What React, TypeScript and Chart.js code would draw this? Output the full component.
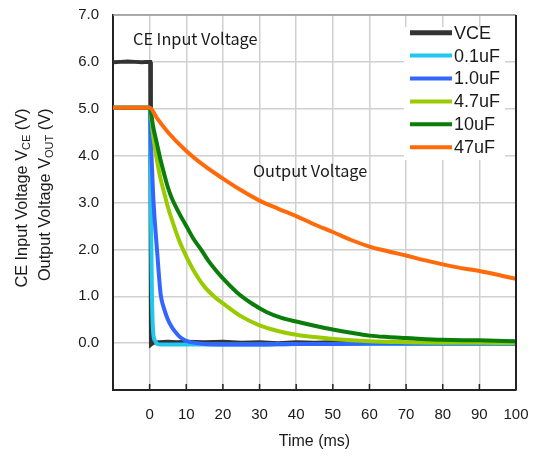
import React, { useEffect, useRef } from 'react';
import { Chart, registerables } from 'chart.js';
Chart.register(...registerables);

const W = 539;
const H = 456;

// ---- data (time in ms, voltage in V) ----
const vceT = [-10, -8, -6, -4, -2, -1, 0, 0.15, 0.35, 1, 2.5, 5, 7.5, 10, 15, 20, 25, 30, 35, 40, 45, 50, 55, 60, 65, 70, 75, 80, 85, 90, 95, 100];
const vceV = [5.99, 6.0, 6.01, 6.0, 5.99, 6.0, 6.0, 6.0, -0.03, 0.01, 0.02, 0.03, 0.02, 0.03, 0.02, 0.03, 0.01, 0.02, 0.0, 0.02, 0.01, 0.02, 0.01, 0.0, 0.02, 0.01, 0.02, 0.01, 0.02, 0.01, 0.0, 0.01];

const c01T = [-10, 0, 0.2, 0.4, 0.6, 0.8, 1, 1.5, 2, 3, 5, 10, 20, 30, 40, 50, 60, 70, 80, 90, 100];
const c01V = [5.02, 5.02, 4.2, 2.5, 1.2, 0.5, 0.2, 0.05, -0.01, -0.03, -0.03, -0.03, -0.03, -0.03, -0.02, -0.02, -0.02, -0.02, -0.02, -0.02, -0.02];

const c10T = [-10, 0, 0.5, 1, 1.5, 2, 3, 4, 5, 6, 7, 8, 9, 10, 12, 15, 20, 30, 40, 50, 60, 70, 80, 90, 100];
const c10V = [5.02, 5.02, 4.0, 3.1, 2.5, 2.0, 1.05, 0.72, 0.5, 0.35, 0.24, 0.15, 0.09, 0.05, 0.01, -0.02, -0.03, -0.03, -0.02, -0.02, -0.01, -0.01, -0.01, -0.01, -0.01];

const c47T = [-10, 0, 1, 2, 3, 4, 5, 6, 8, 10, 12, 15, 18, 20, 25, 30, 35, 40, 45, 50, 60, 70, 80, 90, 100];
const c47V = [5.02, 5.02, 4.4, 3.9, 3.5, 3.2, 2.9, 2.65, 2.2, 1.85, 1.55, 1.2, 0.97, 0.85, 0.57, 0.38, 0.26, 0.18, 0.13, 0.09, 0.04, 0.02, 0.01, 0.01, 0.0];

const c100T = [-10, 0, 1, 2, 3, 4, 5, 6, 8, 10, 12, 14, 16, 18, 20, 24, 28, 32, 36, 40, 45, 50, 55, 60, 65, 70, 80, 90, 100];
const c100V = [5.02, 5.02, 4.6, 4.25, 3.9, 3.6, 3.32, 3.1, 2.78, 2.5, 2.22, 2.0, 1.76, 1.56, 1.38, 1.07, 0.84, 0.66, 0.54, 0.46, 0.37, 0.29, 0.22, 0.16, 0.13, 0.11, 0.07, 0.06, 0.04];

const c470T = [-10, 0, 2, 5, 10, 15, 20, 25, 30, 35, 40, 45, 50, 55, 60, 65, 70, 75, 80, 85, 90, 95, 100];
const c470V = [5.02, 5.02, 4.8, 4.5, 4.1, 3.78, 3.51, 3.26, 3.04, 2.87, 2.71, 2.53, 2.37, 2.2, 2.06, 1.96, 1.87, 1.77, 1.68, 1.6, 1.54, 1.46, 1.37];

const seriesLabels = ['VCE', '0.1uF', '1.0uF', '4.7uF', '10uF', '47uF'];
const seriesColors = ['#333333', '#1ec8f0', '#3366ff', '#99cc00', '#0a7d0a', '#ff6a0a'];
const seriesT = [vceT, c01T, c10T, c47T, c100T, c470T];
const seriesV = [vceV, c01V, c10V, c47V, c100V, c470V];

const xTicks = [0, 10, 20, 30, 40, 50, 60, 70, 80, 90, 100];

const SANS = '"Liberation Sans", Arial, sans-serif';
const JP = '"Noto Sans CJK JP", "Noto Sans", sans-serif';

const decorPlugin = {
  id: 'decor',
  afterDraw(chart: any) {
    const ctx = chart.ctx as CanvasRenderingContext2D;
    const a = chart.chartArea;
    const xs = chart.scales.x;
    ctx.save();
    // top and right borders
    ctx.strokeStyle = '#999';
    ctx.lineWidth = 1.5;
    ctx.beginPath();
    ctx.moveTo(a.left, a.top);
    ctx.lineTo(a.right, a.top);
    ctx.stroke();
    ctx.strokeStyle = '#222';
    ctx.lineWidth = 2;
    ctx.beginPath();
    ctx.moveTo(a.right, a.top);
    ctx.lineTo(a.right, a.bottom);
    ctx.stroke();
    // inner x tick marks
    ctx.lineWidth = 1.5;
    xTicks.forEach((t) => {
      const px = xs.getPixelForValue(t);
      ctx.beginPath();
      ctx.moveTo(px, a.bottom);
      ctx.lineTo(px, a.bottom - 6);
      ctx.stroke();
    });

    // annotations
    ctx.fillStyle = '#1a1a1a';
    ctx.font = '16.3px ' + JP;
    ctx.textBaseline = 'middle';
    ctx.textAlign = 'left';
    ctx.fillText('CE Input Voltage', 133, 38.5);
    ctx.fillText('Output Voltage', 253, 170.5);

    // legend
    const lx = 404, ly = 27, lw = 101, lh = 133;
    ctx.fillStyle = '#ffffff';
    ctx.fillRect(lx, ly, lw, lh);
    ctx.font = '18px ' + SANS;
    seriesLabels.forEach((lab, i) => {
      const y = 32.7 + i * 22.9;
      ctx.strokeStyle = seriesColors[i];
      ctx.lineWidth = i === 0 ? 5 : 4;
      ctx.beginPath();
      ctx.moveTo(410, y);
      ctx.lineTo(452, y);
      ctx.stroke();
      ctx.fillStyle = '#1a1a1a';
      ctx.fillText(lab, 454, y + 1);
    });

    // x title
    ctx.font = '16px ' + SANS;
    ctx.textAlign = 'center';
    ctx.fillText('Time (ms)', (a.left + a.right) / 2, 442);

    // y title (two lines with subscripts)
    const drawRot = (cx: number, yEnd: number, parts: [string, boolean][]) => {
      const mainF = '16.3px ' + SANS;
      const subF = '11px ' + SANS;
      let total = 0;
      parts.forEach(([s, sub]) => {
        ctx.font = sub ? subF : mainF;
        total += ctx.measureText(s).width;
      });
      ctx.save();
      ctx.translate(cx, yEnd);
      ctx.rotate(-Math.PI / 2);
      ctx.textAlign = 'left';
      ctx.textBaseline = 'middle';
      let x = -total;
      parts.forEach(([s, sub]) => {
        ctx.font = sub ? subF : mainF;
        ctx.fillText(s, x, sub ? 4 : 0);
        x += ctx.measureText(s).width;
      });
      ctx.restore();
    };
    drawRot(22.5, 108.5, [['CE Input Voltage V', false], ['CE', true], [' (V)', false]]);
    drawRot(45.5, 108.5, [['Output Voltage V', false], ['OUT', true], [' (V)', false]]);
    ctx.restore();
  },
};

export default function App() {
  const ref = useRef<HTMLCanvasElement>(null);
  useEffect(() => {
    const canvas = ref.current!;
    const datasets = seriesLabels.map((lab, i) => ({
      label: lab,
      data: seriesT[i].map((t, j) => ({ x: t, y: seriesV[i][j] })),
      borderColor: seriesColors[i],
      backgroundColor: seriesColors[i],
      borderWidth: 4,
      pointRadius: 0,
      tension: 0,
      cubicInterpolationMode: i === 0 ? 'default' : 'monotone',
      order: 6 - i,
      fill: false,
    }));
    const chart = new Chart(canvas, {
      type: 'line',
      data: { datasets } as any,
      options: {
        responsive: false,
        animation: false,
        maintainAspectRatio: false,
        layout: { padding: { top: 15, right: 23, left: 0, bottom: 0 } },
        plugins: { legend: { display: false }, tooltip: { enabled: false } },
        scales: {
          x: {
            type: 'linear',
            min: -10,
            max: 100,
            ticks: {
              stepSize: 10,
              autoSkip: false,
              maxRotation: 0,
              padding: 16,
              color: '#1a1a1a',
              font: { family: SANS, size: 15 },
              callback: (v: any) => (v === -10 ? '' : String(v)),
            },
            grid: { color: '#d0d0d0', lineWidth: 1.5, drawTicks: false },
            border: { display: true, color: '#222', width: 2 },
            afterFit: (s: any) => {
              s.height = 66;
              s.paddingLeft = 0;
              s.paddingRight = 0;
            },
          },
          y: {
            type: 'linear',
            min: -1,
            max: 7,
            ticks: {
              stepSize: 1,
              padding: 14,
              color: '#1a1a1a',
              font: { family: SANS, size: 15 },
              callback: (v: any) => (v === -1 ? '' : Number(v).toFixed(1)),
            },
            grid: { color: '#d0d0d0', lineWidth: 1.5, drawTicks: false },
            border: { display: true, color: '#222', width: 2 },
            afterFit: (s: any) => {
              s.width = 113;
              s.paddingTop = 0;
              s.paddingBottom = 0;
            },
          },
        },
      } as any,
      plugins: [decorPlugin],
    });
    return () => chart.destroy();
  }, []);
  return (
    <div style={{ position: 'fixed', left: 0, top: 0, width: W, height: H, background: '#fff' }}>
      <canvas ref={ref} width={W} height={H} style={{ width: W, height: H, display: 'block' }} />
    </div>
  );
}
